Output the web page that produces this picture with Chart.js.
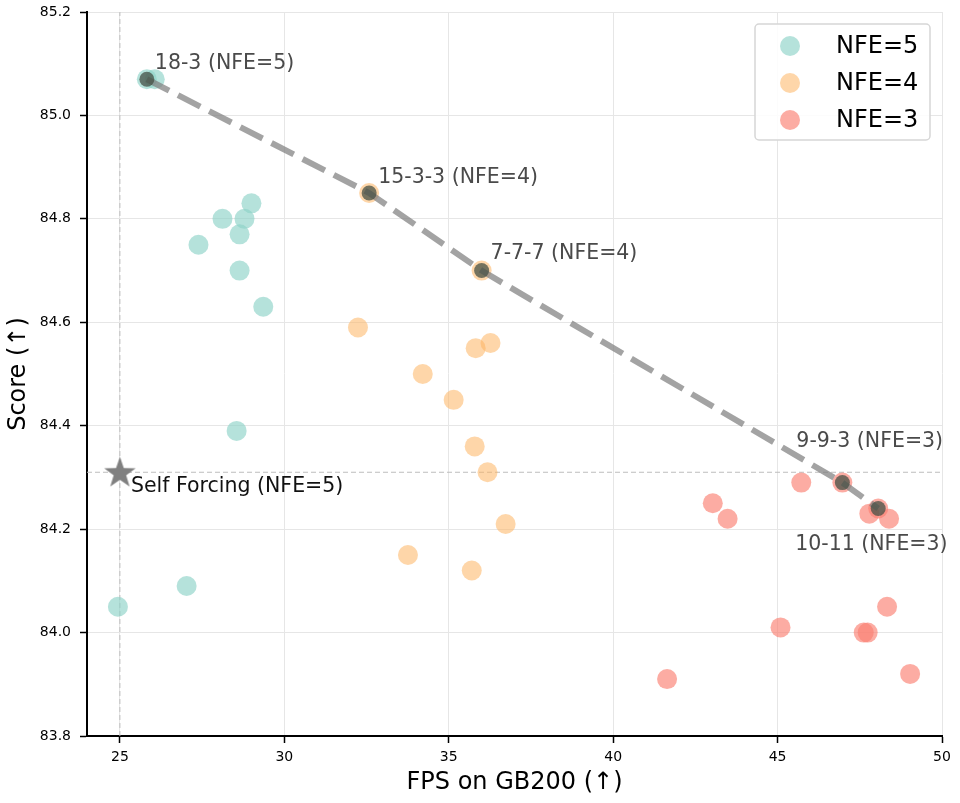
<!DOCTYPE html>
<html>
<head>
<meta charset="utf-8">
<script src="https://cdn.jsdelivr.net/npm/chart.js@4.4.1/dist/chart.umd.min.js"></script>
<style>
  html, body { margin: 0; padding: 0; background: #fff; }
  #wrap { width: 960px; height: 803px; }
</style>
</head>
<body>
<div id="wrap"><canvas id="c" width="960" height="803"></canvas></div>
<script>
const nfe5X = [25.82, 26.06, 28.12, 27.39, 29.0, 28.79, 28.64, 28.64, 29.36, 28.55, 27.03, 24.94];
const nfe5Y = [85.07, 85.07, 84.80, 84.75, 84.83, 84.80, 84.77, 84.70, 84.63, 84.39, 84.09, 84.05];
const nfe4X = [32.58, 36.0, 32.24, 35.82, 36.27, 34.21, 35.15, 35.79, 36.18, 36.73, 33.76, 35.70];
const nfe4Y = [84.85, 84.70, 84.59, 84.55, 84.56, 84.50, 84.45, 84.36, 84.31, 84.21, 84.15, 84.12];
const nfe3X = [46.97, 48.06, 45.72, 43.03, 43.48, 47.79, 48.39, 48.33, 45.09, 47.62, 47.74, 41.64, 49.03];
const nfe3Y = [84.29, 84.24, 84.29, 84.25, 84.22, 84.23, 84.22, 84.05, 84.01, 84.00, 84.00, 83.91, 83.92];

// pareto front
const paretoX = [25.82, 32.58, 36.0, 46.97, 48.06];
const paretoY = [85.07, 84.85, 84.70, 84.29, 84.24];
const paretoLabels = ['18-3 (NFE=5)', '15-3-3 (NFE=4)', '7-7-7 (NFE=4)', '9-9-3 (NFE=3)', '10-11 (NFE=3)'];

// baseline
const baseX = 25.0;
const baseY = 84.31;
const baseLabel = 'Self Forcing (NFE=5)';

const xTicks = [25, 30, 35, 40, 45, 50];
const yTicks = [83.8, 84.0, 84.2, 84.4, 84.6, 84.8, 85.0, 85.2];

const pts = (xs, ys) => xs.map((x, i) => ({ x: x, y: ys[i] }));

// label offsets in px (style only)
const labelOffsets = [[8, -16], [9, -15], [9, -17], [-46, -41], [-83, 36]];

const col5 = 'rgba(141,211,199,0.65)';
const col4 = 'rgba(253,180,98,0.55)';
const col3 = 'rgba(251,128,114,0.65)';

Chart.defaults.font.family = 'DejaVu Sans';
Chart.defaults.font.size = 14;
Chart.defaults.color = '#000';

// — yıldız işareti —
function makeStar(size, color) {
  const c = document.createElement('canvas');
  c.width = size; c.height = size;
  const g = c.getContext('2d');
  const cx = size / 2, cy = size / 2 + 1, R = size / 2, r = R * 0.4;
  g.beginPath();
  for (let i = 0; i < 10; i++) {
    const a = -Math.PI / 2 + i * Math.PI / 5;
    const rr = i % 2 === 0 ? R : r;
    g.lineTo(cx + rr * Math.cos(a), cy + rr * Math.sin(a));
  }
  g.closePath();
  g.fillStyle = color;
  g.fill();
  return c;
}
const star = makeStar(33, '#808080');

const annotate = {
  id: 'annotate',
  afterDatasetsDraw(chart) {
    const ctx = chart.ctx;
    const xs = chart.scales.x, ys = chart.scales.y;
    ctx.save();
    ctx.font = '20.5px "DejaVu Sans"';
    ctx.textBaseline = 'middle';
    ctx.textAlign = 'left';
    ctx.fillStyle = '#4a4a4a';
    paretoLabels.forEach((t, i) => {
      const px = xs.getPixelForValue(paretoX[i]) + labelOffsets[i][0];
      const py = ys.getPixelForValue(paretoY[i]) + labelOffsets[i][1];
      ctx.fillText(t, px, py);
    });
    ctx.fillStyle = '#111';
    ctx.fillText(baseLabel, xs.getPixelForValue(baseX) + 11, ys.getPixelForValue(baseY) + 14);

    // legend box
    const lx = 755, ly = 24, lw = 175, lh = 116;
    ctx.beginPath();
    ctx.roundRect(lx, ly, lw, lh, 4);
    ctx.fillStyle = 'rgba(255,255,255,0.85)';
    ctx.fill();
    ctx.strokeStyle = '#d6d6d6';
    ctx.lineWidth = 1.5;
    ctx.stroke();
    const items = [['NFE=5', col5], ['NFE=4', col4], ['NFE=3', col3]];
    ctx.font = '24px "DejaVu Sans"';
    items.forEach((it, i) => {
      const cy = ly + 22 + i * 37;
      ctx.beginPath();
      ctx.arc(lx + 35, cy, 10, 0, Math.PI * 2);
      ctx.fillStyle = it[1];
      ctx.fill();
      ctx.fillStyle = '#000';
      ctx.fillText(it[0], lx + 81, cy + 1);
    });
    ctx.restore();
  }
};

const ctx = document.getElementById('c').getContext('2d');
new Chart(ctx, {
  type: 'scatter',
  data: {
    datasets: [
      { // vertical reference
        type: 'line', data: [{ x: baseX, y: 83.8 }, { x: baseX, y: 85.2 }],
        borderColor: '#bdbdbd', borderWidth: 1, borderDash: [5, 3], pointRadius: 0, order: 10
      },
      { // horizontal reference
        type: 'line', data: [{ x: 24, y: baseY }, { x: 50, y: baseY }],
        borderColor: '#bdbdbd', borderWidth: 1, borderDash: [5, 3], pointRadius: 0, order: 10
      },
      { label: 'NFE=5', data: pts(nfe5X, nfe5Y), backgroundColor: col5, borderWidth: 0, pointRadius: 10, order: 5 },
      { label: 'NFE=4', data: pts(nfe4X, nfe4Y), backgroundColor: col4, borderWidth: 0, pointRadius: 10, order: 4 },
      { label: 'NFE=3', data: pts(nfe3X, nfe3Y), backgroundColor: col3, borderWidth: 0, pointRadius: 10, order: 3 },
      { // pareto line
        type: 'line', data: pts(paretoX, paretoY), borderColor: 'rgba(128,128,128,0.72)', borderWidth: 6,
        borderDash: [25, 10], pointRadius: 0, order: 2
      },
      { // highlighted pareto points
        data: pts(paretoX, paretoY), backgroundColor: 'rgba(70,80,70,0.75)', borderWidth: 0, pointRadius: 7.5, order: 1
      },
      { // self forcing star
        data: [{ x: baseX, y: baseY }], pointStyle: star, pointRadius: 16, order: 0
      }
    ]
  },
  options: {
    responsive: false,
    animation: false,
    layout: { autoPadding: false, padding: { top: 12, right: 18, left: 0, bottom: 0 } },
    plugins: { legend: { display: false }, tooltip: { enabled: false } },
    scales: {
      x: {
        type: 'linear', min: 24, max: 50,
        afterBuildTicks: s => { s.ticks = xTicks.map(v => ({ value: v })); },
        afterFit: s => { s.height = 67; s.paddingLeft = 0; s.paddingRight = 0; },
        ticks: { color: '#000', font: { family: 'DejaVu Sans', size: 14 }, padding: 6 },
        grid: { color: '#e6e6e6', tickColor: '#000', tickLength: 7, tickWidth: 1.5 },
        border: { display: true, color: '#000', width: 2 },
        title: { display: true, text: 'FPS on GB200 (↑)', color: '#000', font: { family: 'DejaVu Sans', size: 24 }, padding: { top: 0, bottom: 6 } }
      },
      y: {
        type: 'linear', min: 83.8, max: 85.2,
        afterBuildTicks: s => { s.ticks = yTicks.map(v => ({ value: v })); },
        afterFit: s => { s.width = 87; s.paddingTop = 0; s.paddingBottom = 0; },
        ticks: { color: '#000', font: { family: 'DejaVu Sans', size: 14 }, padding: 9, callback: v => v.toFixed(1) },
        grid: { color: '#e6e6e6', tickColor: '#000', tickLength: 7, tickWidth: 1.5 },
        border: { display: true, color: '#000', width: 2 },
        title: { display: true, text: 'Score (↑)', color: '#000', font: { family: 'DejaVu Sans', size: 24 }, padding: { bottom: 4 } }
      }
    }
  },
  plugins: [annotate]
});
</script>
</body>
</html>
